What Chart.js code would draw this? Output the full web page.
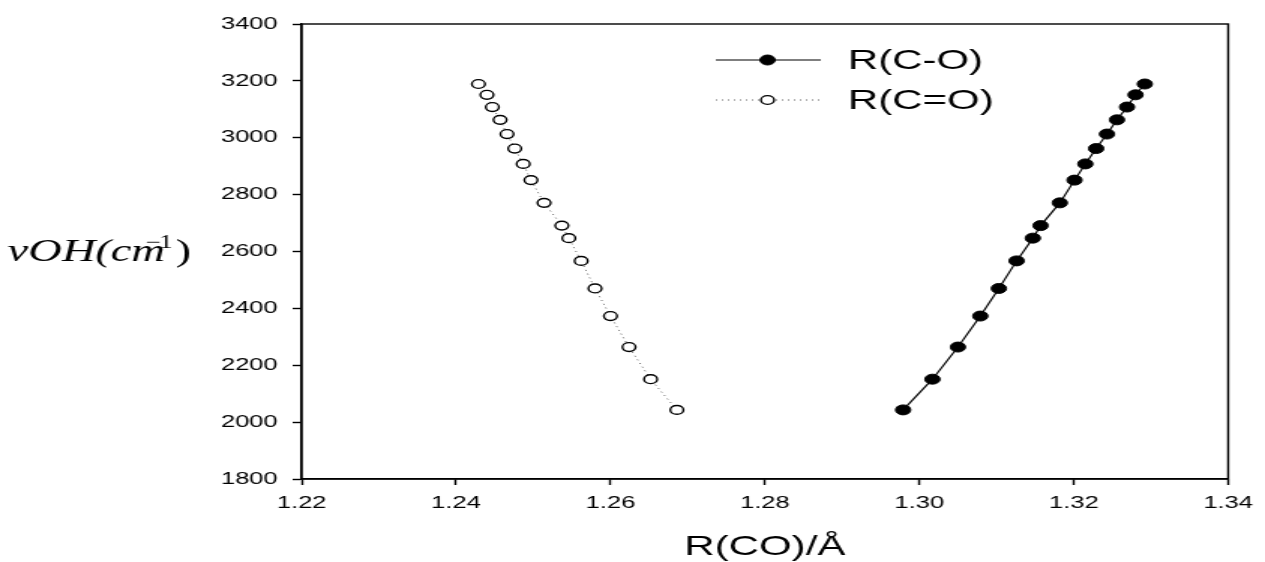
<!DOCTYPE html>
<html>
<head>
<meta charset="utf-8">
<script src="https://cdn.jsdelivr.net/npm/chart.js@4.4.0/dist/chart.umd.min.js"></script>
<style>
  html, body { margin: 0; padding: 0; background: #fff; overflow: hidden; }
  /* the original figure is stretched sideways, so the whole canvas is too */
  #wrap { width: 843px; height: 562px; transform: scaleX(1.5006); transform-origin: 0 0; }
</style>
</head>
<body>
<div id="wrap"><canvas id="chart" width="843" height="562"></canvas></div>
<script>
const nuOH = [2043, 2151, 2264, 2373, 2470, 2567, 2647, 2691, 2771, 2851, 2908, 2962, 3013, 3063, 3108, 3151, 3189];
const rSingle = [1.2979, 1.3017, 1.3050, 1.3079, 1.3103, 1.3126, 1.3147, 1.3157, 1.3182, 1.3201, 1.3215, 1.3229, 1.3243, 1.3256, 1.3269, 1.3280, 1.3292];
const rDouble = [1.2686, 1.2652, 1.2624, 1.2600, 1.2580, 1.2562, 1.2546, 1.2537, 1.2514, 1.2497, 1.2487, 1.2476, 1.2466, 1.2457, 1.2447, 1.2440, 1.2429];
const seriesNames = ["R(C-O)", "R(C=O)"];
const xTicks = [1.22, 1.24, 1.26, 1.28, 1.30, 1.32, 1.34];
const yTicks = [1800, 2000, 2200, 2400, 2600, 2800, 3000, 3200, 3400];
const xTitle = "R(CO)/Å";

const sansFont = "'Liberation Sans', Arial, sans-serif";
const serifFont = "'Liberation Serif', 'Times New Roman', serif";

const toPoints = (xs) => xs.map((x, i) => ({ x: x, y: nuOH[i] }));

// box round the plot, legend and the horizontal y title
const extras = {
  id: "extras",
  afterDraw(chart) {
    const ctx = chart.ctx;
    const a = chart.chartArea;
    ctx.save();
    ctx.strokeStyle = "#000";
    ctx.lineWidth = 1.4;
    ctx.strokeRect(a.left, a.top, a.right - a.left, a.bottom - a.top);

    // legend
    const rows = [
      { y: 60, ds: chart.data.datasets[0] },
      { y: 100, ds: chart.data.datasets[1] },
    ];
    rows.forEach((row) => {
      const ds = row.ds;
      ctx.beginPath();
      ctx.setLineDash(ds.borderDash || []);
      ctx.strokeStyle = ds.borderColor;
      ctx.lineWidth = ds.borderWidth;
      ctx.moveTo(477, row.y);
      ctx.lineTo(547, row.y);
      ctx.stroke();
      ctx.setLineDash([]);
      ctx.beginPath();
      ctx.arc(511.5, row.y, ds.pointRadius, 0, Math.PI * 2);
      ctx.fillStyle = ds.pointBackgroundColor;
      ctx.fill();
      ctx.lineWidth = ds.pointBorderWidth;
      ctx.strokeStyle = ds.pointBorderColor;
      ctx.stroke();
      ctx.fillStyle = "#000";
      ctx.font = "28px " + sansFont;
      ctx.textBaseline = "middle";
      ctx.fillText(ds.label, 565, row.y + 1);
    });

    // y title: vOH(cm^-1)
    const base = 261;
    let x = 5;
    ctx.textBaseline = "alphabetic";
    ctx.font = "italic 31px " + serifFont;
    ctx.fillText("vOH(cm", x, base);
    x += ctx.measureText("vOH(cm").width;
    ctx.font = "18px " + serifFont;
    ctx.fillText("\u2212", x - 13, base - 13);
    ctx.fillText("1", x - 4, base - 13);
    x += ctx.measureText("1").width - 2;
    ctx.font = "31px " + serifFont;
    ctx.fillText(")", x, base);
    ctx.restore();
  },
};

new Chart(document.getElementById("chart"), {
  type: "scatter",
  data: {
    datasets: [
      {
        label: seriesNames[0],
        data: toPoints(rSingle),
        showLine: true,
        borderColor: "#000",
        borderWidth: 1.2,
        pointRadius: 5,
        pointBackgroundColor: "#000",
        pointBorderColor: "#000",
        pointBorderWidth: 1,
      },
      {
        label: seriesNames[1],
        data: toPoints(rDouble),
        showLine: true,
        borderColor: "#666",
        borderWidth: 1,
        borderDash: [1, 3],
        pointRadius: 4.4,
        pointBackgroundColor: "#fff",
        pointBorderColor: "#000",
        pointBorderWidth: 1.4,
      },
    ],
  },
  options: {
    responsive: false,
    animation: false,
    layout: { padding: { top: 24, right: 17, bottom: 0, left: 0 } },
    plugins: { legend: { display: false }, tooltip: { enabled: false } },
    scales: {
      x: {
        type: "linear",
        min: xTicks[0],
        max: xTicks[xTicks.length - 1],
        afterBuildTicks: (s) => { s.ticks = xTicks.map((v) => ({ value: v })); },
        afterFit: (s) => { s.height = 83; },
        grid: { drawOnChartArea: false, tickLength: 6, tickWidth: 1.4, tickColor: "#000" },
        border: { color: "#000", width: 1.4 },
        ticks: {
          color: "#000",
          font: { family: sansFont, size: 17 },
          padding: 8,
          maxRotation: 0,
          callback: (v) => v.toFixed(2),
        },
        title: {
          display: true,
          text: xTitle,
          color: "#000",
          font: { family: sansFont, size: 28, lineHeight: 1 },
          padding: { top: 0, bottom: 1 },
        },
      },
      y: {
        type: "linear",
        min: yTicks[0],
        max: yTicks[yTicks.length - 1],
        afterBuildTicks: (s) => { s.ticks = yTicks.map((v) => ({ value: v })); },
        afterFit: (s) => { s.width = 201; },
        grid: { drawOnChartArea: false, tickLength: 6, tickWidth: 1.4, tickColor: "#000" },
        border: { color: "#000", width: 1.4 },
        ticks: {
          color: "#000",
          font: { family: sansFont, size: 17 },
          padding: 10,
          callback: (v) => String(v),
        },
      },
    },
  },
  plugins: [extras],
});
</script>
</body>
</html>
